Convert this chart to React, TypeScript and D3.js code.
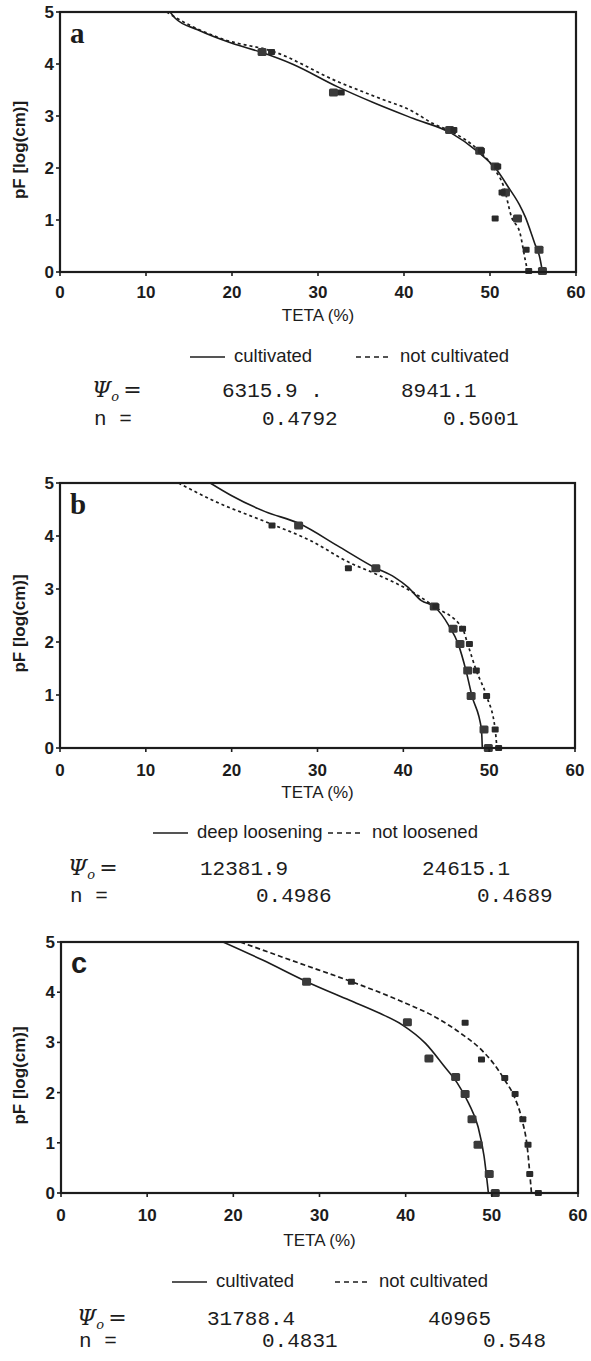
import React from "react";
import * as d3 from "d3";

// ---- panel a ----
const pfA = [4.23, 3.45, 2.73, 2.33, 2.03, 1.53, 1.03, 0.43, 0.02];
const markA1 = [23.5, 31.8, 45.3, 48.8, 50.6, 51.8, 53.2, 55.7, 56.1];
const markA2 = [24.6, 32.7, 45.8, 49.0, 50.9, 51.4, 50.6, 54.2, 54.5];
const curveA1x = [12.8, 13.4, 16, 20, 23.5, 27, 32.3, 36.7, 41.1, 45.5, 48.6, 50.8, 52.1, 53.4, 54.1, 55.2, 55.8, 56.1];
const curveA1y = [5, 4.88, 4.66, 4.4, 4.22, 4.0, 3.56, 3.24, 2.95, 2.67, 2.31, 1.96, 1.64, 1.3, 1.06, 0.55, 0.27, 0];
const curveA2x = [12.4, 13.8, 19.1, 24.8, 32.3, 36.7, 41.1, 43.3, 45.5, 48.6, 50.6, 51.6, 52.5, 53.5, 54.1, 54.4];
const curveA2y = [5, 4.86, 4.47, 4.24, 3.66, 3.37, 3.08, 2.86, 2.7, 2.35, 1.96, 1.64, 1.06, 0.74, 0.23, 0];

// ---- panel b ----
const pfB = [4.2, 3.39, 2.67, 2.25, 1.96, 1.46, 0.98, 0.35, 0];
const markB1 = [27.8, 36.8, 43.6, 45.8, 46.6, 47.5, 47.9, 49.4, 49.9];
const markB2 = [24.7, 33.6, 43.8, 46.9, 47.7, 48.5, 49.7, 50.7, 51.1];
const curveB1x = [17.5, 19.9, 23.9, 27.8, 32.6, 36.6, 39.0, 40.5, 42.1, 43.6, 45.3, 46.4, 47.3, 48.0, 49.1, 49.2];
const curveB1y = [5, 4.77, 4.46, 4.24, 3.79, 3.41, 3.22, 3.04, 2.78, 2.67, 2.31, 1.96, 1.46, 0.98, 0.35, 0];
const curveB2x = [13.8, 17.7, 24.7, 29.1, 33.7, 37.0, 41.4, 43.6, 46.9, 47.5, 48.5, 49.7, 50.7, 50.9];
const curveB2y = [5, 4.68, 4.22, 3.92, 3.5, 3.27, 2.91, 2.67, 2.25, 1.96, 1.46, 0.98, 0.35, 0];

// ---- panel c ----
const pfC1 = [4.21, 3.4, 2.68, 2.31, 1.97, 1.47, 0.96, 0.38, 0];
const markC1 = [28.5, 40.2, 42.7, 45.8, 46.9, 47.7, 48.4, 49.7, 50.4];
const pfC2 = [4.21, 3.39, 2.66, 2.29, 1.97, 1.47, 0.96, 0.38, 0];
const markC2 = [33.7, 46.9, 48.8, 51.5, 52.7, 53.6, 54.2, 54.4, 55.4];
const curveC1x = [18.8, 23.4, 28.5, 33.5, 37.0, 39.6, 42.3, 44.5, 46.0, 47.3, 48.4, 49.1, 49.6];
const curveC1y = [5, 4.64, 4.21, 3.84, 3.58, 3.35, 2.98, 2.52, 2.19, 1.79, 1.32, 0.73, 0];
const curveC2x = [20.8, 27.8, 33.7, 39.2, 44.0, 46.4, 48.8, 50.2, 51.5, 52.6, 53.5, 54.1, 54.5, 54.6];
const curveC2y = [5, 4.57, 4.21, 3.84, 3.45, 3.18, 2.85, 2.58, 2.25, 1.92, 1.46, 0.93, 0.2, 0];

const xTicks = [0, 10, 20, 30, 40, 50, 60];
const yTicks = [0, 1, 2, 3, 4, 5];
const legendA = ["cultivated", "not cultivated"];
const legendB = ["deep loosening", "not loosened"];
const legendC = ["cultivated", "not cultivated"];
const psiA = ["6315.9 .", "8941.1"];
const nA = ["0.4792", "0.5001"];
const psiB = ["12381.9", "24615.1"];
const nB = ["0.4986", "0.4689"];
const psiC = ["31788.4", "40965"];
const nC = ["0.4831", "0.548"];

const INK = "#1c1c1c";
const SANS = "'Liberation Sans', Arial, sans-serif";
const MONO = "'Liberation Mono', 'Courier New', monospace";

type P = {
  letter: string; letterFont: string;
  top: number; bottom: number; left: number; right: number;
  pf1: number[]; m1: number[]; pf2: number[]; m2: number[];
  c1x: number[]; c1y: number[]; c2x: number[]; c2y: number[];
  dash: string;
  tickBase: number; titleBase: number; legBase: number;
  leg: string[]; legX: number[];
  psi: string[]; n: string[]; psiBase: number; nBase: number;
  psiX: number[]; nX: number[]; labX: number;
};

function Panel(p: P) {
  const x = d3.scaleLinear().domain([0, 60]).range([p.left, p.right]);
  const y = d3.scaleLinear().domain([0, 5]).range([p.bottom, p.top]);
  const line = d3.line<[number, number]>()
    .x(d => x(d[0])).y(d => y(d[1])).curve(d3.curveMonotoneX);
  const pts = (xs: number[], ys: number[]) => xs.map((v, i) => [v, ys[i]] as [number, number]);
  const clipId = "clip" + p.letter;
  return (
    <g>
      <defs>
        <clipPath id={clipId}>
          <rect x={p.left} y={p.top} width={p.right - p.left} height={p.bottom - p.top} />
        </clipPath>
      </defs>
      <g clipPath={`url(#${clipId})`}>
        <path d={line(pts(p.c1x, p.c1y)) || ""} fill="none" stroke={INK} strokeWidth={1.6} />
        <path d={line(pts(p.c2x, p.c2y)) || ""} fill="none" stroke={INK} strokeWidth={1.7} strokeDasharray={p.dash} />
      </g>
      {p.m1.map((v, i) => (
        <rect key={"a" + i} x={x(v) - 4.5} y={y(p.pf1[i]) - 4} width={9} height={8} rx={1.5} fill="#3a3a3a" />
      ))}
      {p.m2.map((v, i) => (
        <rect key={"b" + i} x={x(v) - 3.5} y={y(p.pf2[i]) - 3} width={7} height={6} rx={1} fill="#2a2a2a" />
      ))}
      <rect x={p.left} y={p.top} width={p.right - p.left} height={p.bottom - p.top}
        fill="none" stroke={INK} strokeWidth={2.2} />
      {xTicks.map(t => (
        <g key={"x" + t}>
          <line x1={x(t)} x2={x(t)} y1={p.bottom} y2={p.bottom + 4} stroke={INK} strokeWidth={1.6} />
          <text x={x(t)} y={p.tickBase} textAnchor="middle" fontFamily={SANS} fontWeight="bold"
            fontSize={17} fill={INK}>{t}</text>
        </g>
      ))}
      {yTicks.map(t => (
        <g key={"y" + t}>
          <line x1={p.left - 4} x2={p.left} y1={y(t)} y2={y(t)} stroke={INK} strokeWidth={1.6} />
          <text x={p.left - 6} y={y(t) + 6} textAnchor="end" fontFamily={SANS} fontWeight="bold"
            fontSize={17} fill={INK}>{t}</text>
        </g>
      ))}
      <text x={p.left + 10} y={p.top + 31} fontFamily={p.letterFont} fontWeight="bold" fontSize={29} fill={INK}>{p.letter}</text>
      <text transform={`translate(25,${(p.top + p.bottom) / 2 + 8}) rotate(-90)`} textAnchor="middle"
        fontFamily={SANS} fontWeight="bold" fontSize={17} fill={INK}>pF [log(cm)]</text>
      <text x={(p.left + p.right) / 2} y={p.titleBase} textAnchor="middle" fontFamily={SANS}
        fontSize={17} fill={INK}>TETA (%)</text>
      <line x1={p.legX[0]} x2={p.legX[0] + 35} y1={p.legBase - 5} y2={p.legBase - 5} stroke={INK} strokeWidth={1.6} />
      <text x={p.legX[0] + 44} y={p.legBase} fontFamily={SANS} fontSize={18.5} fill={INK}>{p.leg[0]}</text>
      <line x1={p.legX[1]} x2={p.legX[1] + 36} y1={p.legBase - 5} y2={p.legBase - 5} stroke={INK}
        strokeWidth={1.6} strokeDasharray="5,4" />
      <text x={p.legX[1] + 44} y={p.legBase} fontFamily={SANS} fontSize={18.5} fill={INK}>{p.leg[1]}</text>
      <text x={p.labX} y={p.psiBase} fontFamily="'DejaVu Serif', serif" fontSize={22} fill={INK}>
        <tspan fontStyle="italic">Ψ</tspan>
        <tspan fontSize={13} dy={4} fontStyle="italic">o</tspan>
        <tspan dy={-4} dx={4}>=</tspan>
      </text>
      <text x={p.labX + 2} y={p.nBase} fontFamily={MONO} fontSize={21} fill={INK}>n =</text>
      <text x={p.psiX[0]} y={p.psiBase} fontFamily={MONO} fontSize={21} fill={INK}>{p.psi[0]}</text>
      <text x={p.psiX[1]} y={p.psiBase} fontFamily={MONO} fontSize={21} fill={INK}>{p.psi[1]}</text>
      <text x={p.nX[0]} y={p.nBase} fontFamily={MONO} fontSize={21} fill={INK}>{p.n[0]}</text>
      <text x={p.nX[1]} y={p.nBase} fontFamily={MONO} fontSize={21} fill={INK}>{p.n[1]}</text>
    </g>
  );
}

export default function App() {
  return (
    <svg width={591} height={1361} style={{ position: "absolute", left: 0, top: 0, background: "#fff" }}>
      <rect width={591} height={1361} fill="#fff" />
      <Panel letter="a" letterFont="'Liberation Serif', serif" top={12} bottom={272} left={60} right={576}
        pf1={pfA} m1={markA1} pf2={pfA} m2={markA2}
        c1x={curveA1x} c1y={curveA1y} c2x={curveA2x} c2y={curveA2y} dash="3,3"
        tickBase={298} titleBase={321} legBase={362} leg={legendA} legX={[190, 356]}
        psi={psiA} n={nA} psiBase={397} nBase={425} psiX={[222, 401]} nX={[262, 443]} labX={92} />
      <Panel letter="b" letterFont="'Liberation Serif', serif" top={483} bottom={748} left={60} right={575}
        pf1={pfB} m1={markB1} pf2={pfB} m2={markB2}
        c1x={curveB1x} c1y={curveB1y} c2x={curveB2x} c2y={curveB2y} dash="3,3"
        tickBase={776} titleBase={798} legBase={838} leg={legendB} legX={[153, 328]}
        psi={psiB} n={nB} psiBase={875} nBase={902} psiX={[200, 422]} nX={[256, 477]} labX={68} />
      <Panel letter="c" letterFont={SANS} top={942} bottom={1193} left={61} right={578}
        pf1={pfC1} m1={markC1} pf2={pfC2} m2={markC2}
        c1x={curveC1x} c1y={curveC1y} c2x={curveC2x} c2y={curveC2y} dash="5,3"
        tickBase={1221} titleBase={1246} legBase={1287} leg={legendC} legX={[172, 335]}
        psi={psiC} n={nC} psiBase={1325} nBase={1347} psiX={[207, 428]} nX={[262, 483]} labX={77} />
    </svg>
  );
}
